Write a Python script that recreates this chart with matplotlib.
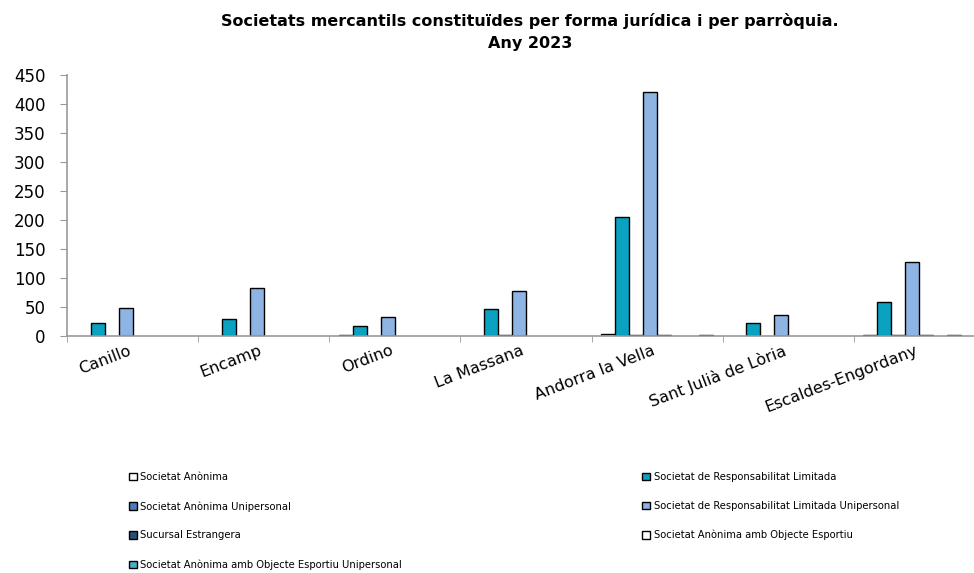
import numpy as np
import matplotlib
matplotlib.use('Agg')
import matplotlib.pyplot as plt

parroquies = ['Canillo', 'Encamp', 'Ordino', 'La Massana', 'Andorra la Vella',
              'Sant Julià de Lòria', 'Escaldes-Engordany']

# values (nan = empty cell, nothing drawn)
nan = np.nan
sa    = [nan, nan, 1, nan, 4, nan, 1]          # Societat Anònima
srl   = [23, 30, 17, 46, 205, 22, 59]          # Societat de Responsabilitat Limitada
sau   = [nan, nan, nan, 1, 1, nan, 1]          # Societat Anònima Unipersonal
srlu  = [49, 83, 33, 78, 420, 36, 127]         # Societat de Responsabilitat Limitada Unipersonal
se    = [nan, nan, nan, nan, 1, nan, 1]        # Sucursal Estrangera
saoe  = [nan, nan, nan, nan, nan, nan, nan]    # Societat Anònima amb Objecte Esportiu
saoeu = [nan, nan, nan, nan, nan, nan, 1]      # Societat Anònima amb Objecte Esportiu Unipersonal
altres = [nan, nan, nan, nan, 1, nan, nan]     # 8th series, no legend entry in the original

series = [sa, srl, sau, srlu, se, saoe, saoeu, altres]
noms = ['Societat Anònima', 'Societat de Responsabilitat Limitada',
        'Societat Anònima Unipersonal', 'Societat de Responsabilitat Limitada Unipersonal',
        'Sucursal Estrangera', 'Societat Anònima amb Objecte Esportiu',
        'Societat Anònima amb Objecte Esportiu Unipersonal', '_nolegend_']
colors = ['#FFFFFF', '#0AA2C0', '#4A7EBB', '#8EB4E3', '#2C4D75', '#FFFFFF', '#4BACC6', '#FFFFFF']

fig = plt.figure(figsize=(9.74, 5.73), dpi=100)
ax = fig.add_axes([67/974, 1-336/573, 918/974, 261/573])

n = len(series)
w = 0.1067                      # bar width in category units
side = (1 - n*w) / 2            # gap at each side of a group
x = np.arange(len(parroquies))
bars = []
for j in range(n):
    b = ax.bar(x + side + j*w, series[j], width=w, align='edge', color=colors[j],
               edgecolor='black', linewidth=1.0, label=noms[j])
    bars.append(b)

ax.set_xlim(0, len(parroquies))
ax.set_ylim(0, 450)
ax.set_yticks(np.arange(0, 451, 50))
ax.set_xticks(x + 0.46)         # label end sits a touch left of the group centre
ax.set_xticks(np.arange(0, len(parroquies)+1), minor=True)
ax.set_xticklabels(parroquies, rotation=21, ha='right', va='top', rotation_mode='anchor', fontsize=11.5)
ax.tick_params(axis='x', which='major', length=0, pad=5)
ax.tick_params(axis='x', which='minor', length=4.5, direction='out', color='#999999')
ax.tick_params(axis='y', length=5, direction='out', color='#999999', labelsize=12, pad=10.5)

for s in ['top', 'right']:
    ax.spines[s].set_visible(False)
for s in ['left', 'bottom']:
    ax.spines[s].set_color('#999999')
    ax.spines[s].set_linewidth(1.2)

fig.text(530/974, 1-32/573, 'Societats mercantils constituïdes per forma jurídica i per parròquia.\nAny 2023',
         ha='center', va='center', fontsize=11.5, fontweight='bold', linespacing=1.6)

# legend split in two columns like the original
leg_kw = dict(fontsize=7.2, frameon=False, handlelength=0.8, handleheight=0.8,
              handletextpad=0.35, labelspacing=1.9, borderaxespad=0, borderpad=0)
left = [bars[0], bars[2], bars[4], bars[6]]
right = [bars[1], bars[3], bars[5]]
l1 = fig.legend(left, [noms[0], noms[2], noms[4], noms[6]], loc='upper left',
                bbox_to_anchor=(129/974, 1-472/573), **leg_kw)
l2 = fig.legend(right, [noms[1], noms[3], noms[5]], loc='upper left',
                bbox_to_anchor=(642/974, 1-472/573), **leg_kw)

plt.savefig('out.png', dpi=100)
